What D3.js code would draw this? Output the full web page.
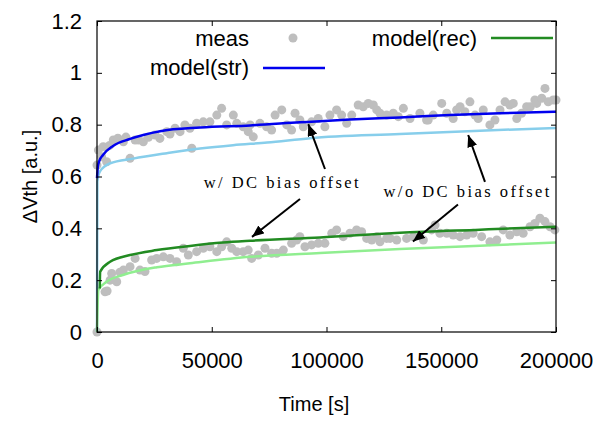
<!DOCTYPE html>
<html>
<head>
<meta charset="utf-8">
<script src="https://cdn.jsdelivr.net/npm/d3@7"></script>
<style>
  html, body { margin: 0; padding: 0; background: #fff; }
  svg { display: block; }
  text { font-family: "Liberation Sans", Arial, Helvetica, sans-serif; fill: #000; }
  .serif { font-family: "Liberation Serif", "Times New Roman", serif; }
</style>
</head>
<body>
<svg id="chart" width="614" height="422"></svg>
<script>
// ---------------- DATA ----------------
const xTickValues = [0, 50000, 100000, 150000, 200000];
const xTickLabels = ["0", "50000", "100000", "150000", "200000"];
const yTickValues = [0, 0.2, 0.4, 0.6, 0.8, 1.0, 1.2];
const yTickLabels = ["0", "0.2", "0.4", "0.6", "0.8", "1", "1.2"];

// measured data, stress set (upper)
const measStrT = [0,600,2000,2700,4200,5500,7100,9100,11500,12600,14400,16600,18000,20200,22400,25300,27400,30400,31800,34000,36200,38300,40500,41300,43400,46300,49200,52200,54300,56500,59400,60900,63700,65900,66700,68100,71000,73900,76100,77600,80500,82700,84800,86300,88400,89900,93500,96400,99300,101500,104400,106600,108800,111000,113800,116000,118200,120400,121900,123300,126200,129100,131300,133500,136400,140700,143600,144300,146500,150200,152400,155200,156700,158200,160300,162500,164700,166100,168300,171200,173400,175600,177800,179900,181400,182900,185000,187200,188800,190800,191600,193800,195200,196600,198800,200000];
const measStrV = [0.644,0.702,0.676,0.715,0.657,0.72,0.741,0.748,0.734,0.752,0.670,0.741,0.741,0.734,0.751,0.760,0.747,0.773,0.764,0.786,0.773,0.799,0.786,0.709,0.805,0.811,0.811,0.837,0.863,0.799,0.837,0.805,0.792,0.773,0.799,0.753,0.805,0.792,0.779,0.837,0.857,0.799,0.779,0.844,0.818,0.792,0.811,0.824,0.792,0.837,0.857,0.837,0.805,0.837,0.876,0.869,0.882,0.876,0.857,0.844,0.837,0.844,0.831,0.863,0.824,0.844,0.818,0.818,0.837,0.882,0.844,0.824,0.857,0.869,0.850,0.888,0.837,0.824,0.857,0.799,0.818,0.857,0.888,0.876,0.882,0.824,0.844,0.869,0.869,0.895,0.882,0.902,0.940,0.888,0.895,0.895];

// measured data, recovery set (lower)
const measRecT = [0,3500,4400,5700,6400,8600,10000,11500,14400,16600,18700,20900,23800,26000,28900,31800,34700,37600,39800,43400,46300,49200,52200,54300,56500,58700,60900,63700,65900,67400,70300,73200,76100,78300,81200,84800,87000,88400,90600,93500,96400,99300,102300,104400,107300,110200,113100,115300,117500,119700,121900,123300,126200,127700,130600,134900,137800,142200,145800,147300,149400,152400,155200,158200,161100,163900,167600,171200,174200,177000,179900,182900,185700,188700,190800,193000,195200,197400,199500];
const measRecV = [0.0,0.155,0.158,0.200,0.226,0.194,0.231,0.239,0.252,0.284,0.239,0.233,0.278,0.284,0.290,0.284,0.271,0.323,0.297,0.310,0.323,0.329,0.310,0.329,0.348,0.323,0.310,0.310,0.316,0.284,0.297,0.323,0.304,0.304,0.316,0.342,0.355,0.368,0.329,0.336,0.342,0.342,0.381,0.394,0.368,0.381,0.394,0.387,0.361,0.355,0.368,0.348,0.361,0.361,0.355,0.361,0.368,0.355,0.394,0.413,0.381,0.381,0.374,0.368,0.374,0.381,0.368,0.348,0.355,0.394,0.374,0.387,0.381,0.406,0.419,0.439,0.426,0.406,0.394];

// model(str) with DC bias offset (dark blue)
const modelStrT = [0,400,1000,2600,7000,14400,27500,45000,66700,88400,110200,132000,153800,175600,200000];
const modelStrV = [0.594,0.640,0.660,0.683,0.718,0.745,0.775,0.789,0.797,0.809,0.820,0.828,0.837,0.844,0.850];
// model(str) without DC bias offset (light blue)
const modelStrNoOffT = [0,150,1300,5700,15700,30500,44900,59300,74100,92800,132000,166900,200000];
const modelStrNoOffV = [0,0.580,0.620,0.651,0.669,0.690,0.708,0.721,0.731,0.748,0.764,0.777,0.787];
// model(rec) with DC bias offset (dark green)
const modelRecT = [1200,1400,5700,14400,26100,40500,54900,66700,97200,132000,166900,200000];
const modelRecV = [0.168,0.233,0.271,0.297,0.316,0.332,0.345,0.352,0.365,0.383,0.395,0.406];
// model(rec) without DC bias offset (light green)
const modelRecNoOffT = [0,600,4200,11300,26100,40500,66700,97200,132000,166900,200000];
const modelRecNoOffV = [0,0.162,0.194,0.220,0.250,0.265,0.290,0.305,0.320,0.333,0.345];

// annotations (data coordinates)
const annoLabels = ["w/ DC bias offset", "w/o DC bias offset"];
const annoLabelT = [46500, 124800];
const annoLabelV = [0.556, 0.521];
const arrowFromT = [99340, 169050, 88450, 157290];
const arrowFromV = [0.629, 0.579, 0.513, 0.492];
const arrowToT   = [92060, 161730, 67530, 137680];
const arrowToV   = [0.802, 0.760, 0.367, 0.349];

// ---------------- CHART ----------------
const svg = d3.select("#chart");
const L = 97, R = 556, T = 21, B = 332;
const x = d3.scaleLinear().domain([0, 200000]).range([L, R]);
const y = d3.scaleLinear().domain([0, 1.2]).range([B, T]);

const COL = {
  meas: "#bebebe",
  str: "#0000ee",
  strNo: "#87ceeb",
  rec: "#228b22",
  recNo: "#90ee90"
};

// scatter
const dots = svg.append("g");
function drawDots(ts, vs) {
  dots.selectAll(null).data(ts.map((t, i) => [t, vs[i]])).enter()
    .append("circle")
    .attr("cx", d => x(d[0])).attr("cy", d => y(d[1]))
    .attr("r", 4.5).attr("fill", COL.meas);
}
drawDots(measStrT, measStrV);
drawDots(measRecT, measRecV);

// lines
const line = d3.line().x(d => x(d[0])).y(d => y(d[1])).curve(d3.curveMonotoneX);
function drawLine(ts, vs, color) {
  svg.append("path")
    .datum(ts.map((t, i) => [t, vs[i]]))
    .attr("d", line).attr("fill", "none")
    .attr("stroke", color).attr("stroke-width", 2.5)
    .attr("stroke-linejoin", "round");
}
drawLine(modelStrNoOffT, modelStrNoOffV, COL.strNo);
drawLine(modelRecNoOffT, modelRecNoOffV, COL.recNo);
drawLine(modelStrT, modelStrV, COL.str);
drawLine(modelRecT, modelRecV, COL.rec);

// axes (ticks inward on all sides)
const fmtX = (d) => xTickLabels[xTickValues.indexOf(d)];
const fmtY = (d) => yTickLabels[yTickValues.indexOf(d)];

const gx = svg.append("g").attr("transform", `translate(0,${B})`)
  .call(d3.axisBottom(x).tickValues(xTickValues).tickFormat(fmtX).tickSizeInner(-5).tickSizeOuter(0).tickPadding(20));
const gxt = svg.append("g").attr("transform", `translate(0,${T})`)
  .call(d3.axisTop(x).tickValues(xTickValues).tickFormat("").tickSizeInner(-5).tickSizeOuter(0));
const gy = svg.append("g").attr("transform", `translate(${L},0)`)
  .call(d3.axisLeft(y).tickValues(yTickValues).tickFormat(fmtY).tickSizeInner(-5).tickSizeOuter(0).tickPadding(15));
const gyr = svg.append("g").attr("transform", `translate(${R},0)`)
  .call(d3.axisRight(y).tickValues(yTickValues).tickFormat("").tickSizeInner(-5).tickSizeOuter(0));
[gx, gxt, gy, gyr].forEach(g => {
  g.selectAll(".domain").remove();
  g.selectAll("line").attr("stroke", "#000").attr("stroke-width", 1);
  g.selectAll("text").attr("font-family", "Liberation Sans, Arial, sans-serif").attr("font-size", 22).attr("fill", "#000");
});

svg.append("rect").attr("x", L).attr("y", T).attr("width", R - L).attr("height", B - T)
  .attr("fill", "none").attr("stroke", "#000").attr("stroke-width", 1.2);

// axis titles
svg.append("text").attr("x", 314).attr("y", 411).attr("text-anchor", "middle")
  .attr("font-size", 20).text("Time [s]");
svg.append("text").attr("transform", `translate(37,${(T + B) / 2}) rotate(-90)`)
  .attr("text-anchor", "middle").attr("font-size", 20).text("ΔVth [a.u.]");

// legend
const lg = svg.append("g");
lg.append("text").attr("x", 249).attr("y", 46).attr("text-anchor", "end").attr("font-size", 22).text("meas");
lg.append("circle").attr("cx", 293).attr("cy", 38).attr("r", 4.5).attr("fill", COL.meas);
lg.append("text").attr("x", 249).attr("y", 75).attr("text-anchor", "end").attr("font-size", 22).text("model(str)");
lg.append("line").attr("x1", 263).attr("x2", 325).attr("y1", 68).attr("y2", 68).attr("stroke", COL.str).attr("stroke-width", 2.5);
lg.append("text").attr("x", 477).attr("y", 46).attr("text-anchor", "end").attr("font-size", 22).text("model(rec)");
lg.append("line").attr("x1", 491).attr("x2", 553).attr("y1", 38).attr("y2", 38).attr("stroke", COL.rec).attr("stroke-width", 2.5);

// annotations
svg.append("defs").append("marker")
  .attr("id", "ah").attr("viewBox", "0 0 12 10").attr("refX", 12).attr("refY", 5)
  .attr("markerWidth", 12).attr("markerHeight", 10).attr("markerUnits", "userSpaceOnUse")
  .attr("orient", "auto")
  .append("path").attr("d", "M0,0 L12,5 L0,10 Z").attr("fill", "#000");

arrowFromT.forEach((t, i) => {
  svg.append("line")
    .attr("x1", x(t)).attr("y1", y(arrowFromV[i]))
    .attr("x2", x(arrowToT[i])).attr("y2", y(arrowToV[i]))
    .attr("stroke", "#000").attr("stroke-width", 2)
    .attr("marker-end", "url(#ah)");
});
const annoLen = [155, 166];
annoLabels.forEach((s, i) => {
  svg.append("text").attr("class", "serif")
    .attr("x", x(annoLabelT[i])).attr("y", y(annoLabelV[i]))
    .attr("font-size", 16.5).attr("textLength", annoLen[i]).attr("lengthAdjust", "spacing")
    .text(s);
});
</script>
</body>
</html>
